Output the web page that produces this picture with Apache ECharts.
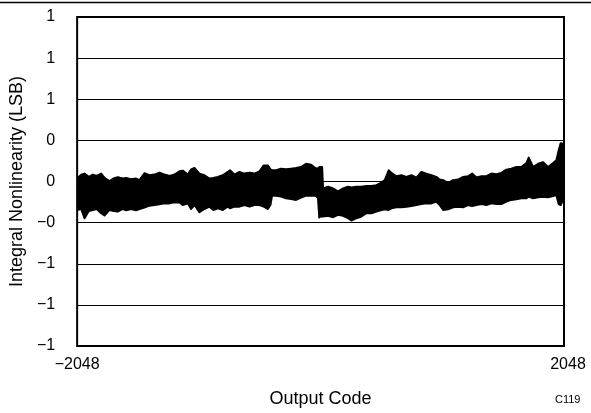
<!DOCTYPE html>
<html>
<head>
<meta charset="utf-8">
<script src="https://cdn.jsdelivr.net/npm/echarts@6/dist/echarts.min.js"></script>
<style>html,body{margin:0;padding:0;background:#fff;}#c{width:591px;height:413px;}</style>
</head>
<body>
<div id="c"></div>
<script>
// Output codes at which the INL band envelope was read
const codes = [-2048,-2014,-1986,-1950,-1916,-1883,-1846,-1818,-1776,-1742,-1706,-1664,-1636,-1594,-1552,-1524,-1482,-1440,-1397,-1355,-1313,-1271,-1229,-1187,-1159,-1117,-1089,-1061,-1019,-977,-935,-902,-865,-823,-781,-762,-725,-683,-641,-598,-556,-514,-478,-444,-422,-408,-374,-332,-291,-248,-206,-164,-122,-80,-44,-22,-11,
 -4,13,21,63,105,147,189,231,259,301,344,386,428,470,498,540,573,596,638,680,722,764,806,848,890,932,974,1002,1031,1073,1115,1157,1199,1241,1275,1311,1353,1395,1437,1479,1521,1563,1605,1647,1689,1732,1751,1788,1830,1872,1914,1956,1984,2003,2020,2040,2048];
// Upper edge of the INL band (LSB)
const inlHigh = [0.018,0.042,0.048,0.028,0.042,0.034,0.048,0.022,0.002,0.018,0.026,0.018,0.022,0.014,0.018,0.008,0.050,0.038,0.042,0.054,0.042,0.034,0.042,0.062,0.066,0.042,0.074,0.082,0.048,0.038,0.018,0.022,0.028,0.038,0.058,0.068,0.042,0.058,0.048,0.054,0.048,0.062,0.098,0.098,0.074,0.068,0.068,0.078,0.074,0.078,0.082,0.088,0.108,0.102,0.082,0.078,0.088,
 0.088,0.088,-0.042,-0.032,-0.042,-0.062,-0.042,-0.032,-0.036,-0.032,-0.032,-0.028,-0.028,-0.022,-0.012,0.008,0.068,0.052,0.032,0.038,0.028,0.038,0.024,0.058,0.048,0.038,0.028,0.012,0.008,-0.008,0.008,0.012,0.028,0.032,0.048,0.024,0.032,0.032,0.048,0.044,0.052,0.072,0.078,0.088,0.088,0.112,0.145,0.088,0.108,0.118,0.088,0.112,0.129,0.189,0.233,0.229,0.169];
// Lower edge of the INL band (LSB)
const inlLow = [-0.173,-0.167,-0.223,-0.179,-0.173,-0.167,-0.193,-0.207,-0.173,-0.179,-0.183,-0.167,-0.175,-0.167,-0.175,-0.167,-0.159,-0.147,-0.143,-0.139,-0.133,-0.133,-0.127,-0.127,-0.143,-0.133,-0.167,-0.143,-0.187,-0.167,-0.153,-0.173,-0.163,-0.173,-0.153,-0.163,-0.153,-0.153,-0.143,-0.153,-0.143,-0.143,-0.153,-0.167,-0.143,-0.086,-0.086,-0.092,-0.102,-0.106,-0.112,-0.098,-0.086,-0.086,-0.086,-0.098,-0.219,
 -0.213,-0.213,-0.213,-0.209,-0.217,-0.203,-0.209,-0.223,-0.237,-0.223,-0.213,-0.193,-0.193,-0.183,-0.177,-0.169,-0.173,-0.163,-0.157,-0.157,-0.153,-0.149,-0.143,-0.137,-0.133,-0.133,-0.122,-0.143,-0.173,-0.169,-0.157,-0.153,-0.157,-0.143,-0.149,-0.143,-0.137,-0.143,-0.133,-0.137,-0.137,-0.122,-0.112,-0.108,-0.102,-0.102,-0.092,-0.102,-0.096,-0.092,-0.096,-0.088,-0.082,-0.137,-0.143,-0.112,-0.102];
// Tick labels as printed on the original (rounded values)
const yTickLabels = ['\u22121','\u22121','\u22121','\u22120','0','0','1','1','1'];
const xTickLabels = {'-2048':'{a|\u22122048}','2048':'{b|2048}'};

const bandData = codes.map((c,i)=>[c, inlHigh[i], inlLow[i]]);

const font = "'Liberation Sans', Arial, sans-serif";
const chart = echarts.init(document.getElementById('c'), null, {renderer:'canvas'});

function renderBand(params, api){
  if (params.dataIndex !== 0) return null;
  const upper = [], lower = [];
  for (let i = 0; i < bandData.length; i++){
    upper.push(api.coord([bandData[i][0], bandData[i][1]]));
    lower.push(api.coord([bandData[i][0], bandData[i][2]]));
  }
  const pts = upper.concat(lower.reverse());
  return {
    type:'polygon',
    shape:{points:pts},
    style:{fill:'#000', stroke:'#000', lineWidth:2, lineJoin:'round'}
  };
}

chart.setOption({
  animation:false,
  backgroundColor:'#fff',
  grid:{left:77, right:27, top:17, bottom:64, show:true, borderColor:'#000', borderWidth:2, backgroundColor:'transparent'},
  xAxis:{
    type:'value', min:-2048, max:2048, interval:4096,
    name:'Output Code', nameLocation:'middle', nameGap:44,
    nameTextStyle:{color:'#000', fontSize:18, fontFamily:font},
    axisLine:{show:false}, axisTick:{show:false}, splitLine:{show:false},
    axisLabel:{color:'#000', fontSize:16, fontFamily:font, margin:11,
      formatter:v=>xTickLabels[String(v)],
      rich:{a:{fontSize:16, fontFamily:font, color:'#000'},
            b:{fontSize:16, fontFamily:font, color:'#000', padding:[0,0,0,8]}}}
  },
  yAxis:{
    type:'value', min:-1, max:1, interval:0.25,
    name:'Integral Nonlinearity (LSB)', nameLocation:'middle', nameGap:44, nameRotate:90,
    nameTextStyle:{color:'#000', fontSize:18, fontFamily:font},
    axisLine:{show:false}, axisTick:{show:false},
    splitLine:{show:true, lineStyle:{color:'#000', width:1}},
    axisLabel:{color:'#000', fontSize:16, fontFamily:font, margin:22,
      formatter:v=>yTickLabels[Math.round((v+1)/0.25)]}
  },
  series:[
    {type:'custom', name:'INL', data:bandData, renderItem:renderBand, clip:true,
     encode:{x:0, y:[1,2]}, z:3}
  ],
  graphic:[
    {type:'line', shape:{x1:0, y1:2.5, x2:591, y2:2.5}, style:{stroke:'#000', lineWidth:1.5}},
    {type:'text', left:555, top:394, style:{text:'C119', fill:'#000', font:"11px 'Liberation Sans', Arial, sans-serif"}}
  ]
});
</script>
</body>
</html>
